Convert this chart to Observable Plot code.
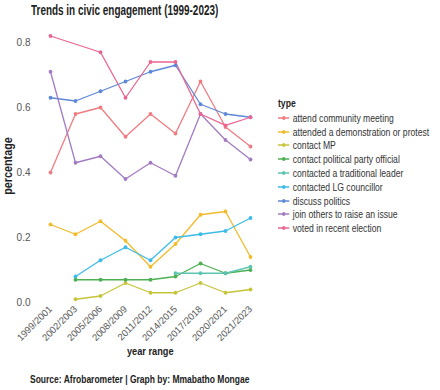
<!DOCTYPE html>
<html><head><meta charset="utf-8">
<script src="https://cdn.jsdelivr.net/npm/d3@7"></script>
<script src="https://cdn.jsdelivr.net/npm/@observablehq/plot@0.6"></script>
<style>
body{margin:0;background:#fff;font-family:"Liberation Sans",Arial,sans-serif;}
#wrap{position:relative;width:440px;height:390px;overflow:hidden;}
.t{position:absolute;font-weight:bold;color:#222;white-space:nowrap;transform-origin:left top;}
#legend{position:absolute;left:278px;top:97px;font-size:10.5px;color:#333;white-space:nowrap;transform:scaleX(0.82);transform-origin:left top;}
#legend .row{display:flex;align-items:center;height:13.8px;}
#legend svg{margin-right:4px;}
</style></head><body>
<div id="wrap">
<div class="t" style="left:31px;top:2px;font-size:14px;transform:scaleX(0.71);">Trends in civic engagement (1999-2023)</div>
<div id="chart" style="position:absolute;left:0;top:20px;"></div>
<div class="t" style="left:-27px;top:159px;font-size:12px;width:70px;text-align:center;transform:rotate(-90deg) scaleX(0.9);transform-origin:center;">percentage</div>
<div class="t" style="left:127px;top:345px;font-size:11.5px;transform:scaleX(0.8);">year range</div>
<div class="t" style="left:30px;top:373px;font-size:10.5px;transform:scaleX(0.81);">Source: Afrobarometer | Graph by: Mmabatho Mongae</div>
<div id="legend"></div>
</div>
<script>
const years = ["1999/2001","2002/2003","2005/2006","2008/2009","2011/2012","2014/2015","2017/2018","2020/2021","2021/2023"];
const types = ["attend community meeting","attended a demonstration or protest","contact MP","contact political party official","contacted a traditional leader","contacted LG councillor","discuss politics","join others to raise an issue","voted in recent election"];
const colors = ["#F07C82","#F2BB2A","#C6C43A","#4DB052","#5EC4B2","#3DBBE8","#5E88D8","#A27CC2","#EA6690"];
const attendMeeting = [0.40,0.58,0.60,0.51,0.58,0.52,0.68,0.54,0.48];
const demonstration = [0.24,0.21,0.25,0.19,0.11,0.18,0.27,0.28,0.14];
const contactMP = [null,0.01,0.02,0.06,0.03,0.03,0.06,0.03,0.04];
const partyOfficial = [null,0.07,0.07,0.07,0.07,0.08,0.12,0.09,0.10];
const tradLeader = [null,null,null,null,null,0.09,0.09,0.09,0.11];
const lgCouncillor = [null,0.08,0.13,0.17,0.13,0.20,0.21,0.22,0.26];
const discussPolitics = [0.63,0.62,0.65,0.68,0.71,0.73,0.61,0.58,0.57];
const joinOthers = [0.71,0.43,0.45,0.38,0.43,0.39,0.58,0.50,0.44];
const voted = [0.82,null,0.77,0.63,0.74,0.74,0.58,0.545,0.57];
const series = [attendMeeting,demonstration,contactMP,partyOfficial,tradLeader,lgCouncillor,discussPolitics,joinOthers,voted];

const data = [];
series.forEach((vals,i)=>vals.forEach((v,j)=>{ if(v!==null) data.push({type:types[i],year:years[j],value:v}); }));

const chart = Plot.plot({
  width:440, height:340,
  marginLeft:33, marginRight:174, marginTop:22, marginBottom:58,
  style:{fontFamily:"Liberation Sans, Arial, sans-serif",fontSize:"9.5px",color:"#555",background:"transparent",overflow:"visible"},
  x:{type:"point",domain:years,padding:0.5,tickSize:0,tickRotate:-45,label:null,tickPadding:5},
  y:{domain:[0,0.8],ticks:[0,0.2,0.4,0.6,0.8],tickFormat:d3.format(".1f"),tickSize:0,tickPadding:3,label:null},
  color:{domain:types,range:colors},
  marks:[
    Plot.axisY({ticks:[0,0.2,0.4,0.6,0.8],tickFormat:d3.format(".1f"),tickSize:0,tickPadding:3,fontSize:10,label:null}),
    Plot.line(data,{x:"year",y:"value",z:"type",stroke:"type",strokeWidth:1.3}),
    Plot.dot(data,{x:"year",y:"value",fill:"type",r:1.9})
  ]
});
document.getElementById("chart").appendChild(chart);

const lg = document.getElementById("legend");
lg.innerHTML = '<div style="font-weight:bold;font-size:10.5px;color:#222;margin-bottom:2px;">type</div>' +
  types.map((t,i)=>`<div class="row"><svg width="14" height="8"><line x1="0" x2="14" y1="4" y2="4" stroke="${colors[i]}" stroke-width="1.3"/><circle cx="7" cy="4" r="2" fill="${colors[i]}"/></svg><span>${t}</span></div>`).join("");
</script>
</body></html>
